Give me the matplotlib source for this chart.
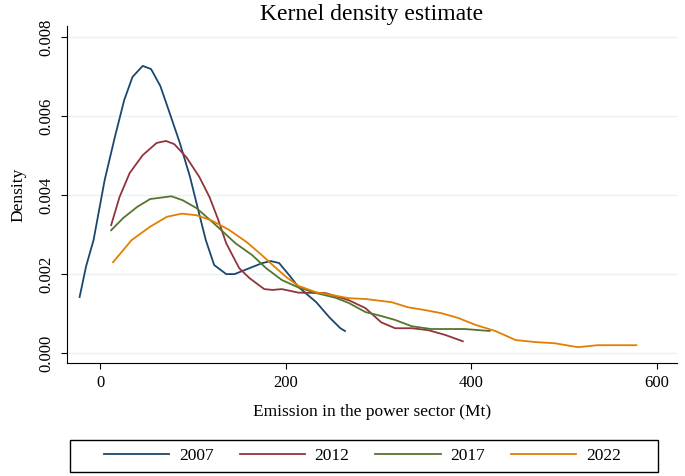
import numpy as np
import matplotlib.pyplot as plt
from matplotlib.patches import Rectangle

plt.rcParams['font.family'] = ['Liberation Serif', 'DejaVu Serif']

# Kernel density curves (x in Mt, y density)
x_2007 = [-22, -15, -7, 5, 16, 26, 35, 46, 55, 65, 75, 86, 97, 105, 114, 123, 136,
          145, 161, 175, 184, 193, 204, 214, 233, 247, 259, 264]
y_2007 = [0.00142, 0.0022, 0.00286, 0.00438, 0.00547, 0.0064, 0.00699, 0.00727,
          0.00719, 0.00676, 0.00608, 0.00532, 0.00446, 0.0037, 0.00286, 0.00223,
          0.0020, 0.0020, 0.00215, 0.00228, 0.00233, 0.00228, 0.00197, 0.00167,
          0.00129, 0.00091, 0.00063, 0.00056]

x_2012 = [12, 21, 32, 46, 61, 71, 80, 93, 107, 118, 127, 136, 150, 161, 177, 186,
          196, 214, 243, 268, 286, 303, 318, 336, 354, 372, 391]
y_2012 = [0.00324, 0.00395, 0.00456, 0.00501, 0.00532, 0.00537, 0.00529, 0.00496,
          0.00446, 0.00395, 0.0034, 0.00278, 0.00215, 0.0019, 0.00162, 0.0016,
          0.00162, 0.00153, 0.00152, 0.00134, 0.00114, 0.00078, 0.00063, 0.00063,
          0.00058, 0.00046, 0.0003]

x_2017 = [12, 25, 40, 54, 77, 89, 104, 121, 146, 164, 179, 196, 214, 233, 254, 268,
          286, 303, 318, 336, 357, 375, 393, 420]
y_2017 = [0.00311, 0.00342, 0.0037, 0.0039, 0.00397, 0.00387, 0.00367, 0.00332,
          0.00278, 0.00248, 0.00215, 0.00185, 0.00166, 0.00152, 0.0014, 0.00127,
          0.00104, 0.00094, 0.00084, 0.00068, 0.00061, 0.00061, 0.00061, 0.00056]

x_2022 = [14, 34, 54, 72, 88, 104, 121, 139, 158, 172, 186, 201, 214, 233, 250, 268,
          286, 314, 332, 350, 368, 386, 404, 426, 448, 469, 490, 515, 536, 578]
y_2022 = [0.0023, 0.00286, 0.0032, 0.00345, 0.00353, 0.00349, 0.00335, 0.00312,
          0.00281, 0.00253, 0.00223, 0.00192, 0.0017, 0.00154, 0.00147, 0.00139,
          0.00137, 0.00129, 0.00116, 0.00109, 0.00101, 0.00089, 0.00072, 0.00056,
          0.00033, 0.00028, 0.00025, 0.00015, 0.0002, 0.0002]

years = ['2007', '2012', '2017', '2022']
colors = ['#1a476f', '#90353b', '#55752f', '#e37e00']

fig = plt.figure(figsize=(6.85, 4.76), dpi=100)
ax = fig.add_axes([0.0978, 0.2374, 0.8905, 0.708])

series = [(x_2007, y_2007), (x_2012, y_2012), (x_2017, y_2017), (x_2022, y_2022)]
for (xs, ys), yr, c in zip(series, years, colors):
    ax.plot(xs, ys, color=c, lw=1.3, label=yr)

ax.set_xlim(-35.6, 621.8)
ax.set_ylim(-0.00025, 0.00828)
ax.set_xticks([0, 200, 400, 600])
ax.set_yticks([0, 0.002, 0.004, 0.006, 0.008])
ax.set_yticklabels(['0.000', '0.002', '0.004', '0.006', '0.008'], rotation=90, va='center')
ax.grid(axis='y', color='#eaf2f3', lw=1)
ax.set_axisbelow(True)
for s in ['top', 'right']:
    ax.spines[s].set_visible(False)
ax.tick_params(labelsize=12, length=4, pad=5)

ax.set_title('Kernel density estimate', fontsize=17, pad=4)
ax.set_xlabel('Emission in the power sector (Mt)', fontsize=12.5, labelpad=9)
ax.set_ylabel('Density', fontsize=12.5, labelpad=9)

# legend box drawn separately, wider than its entries
fig.patches.append(Rectangle((0.1022, 0.0084), 0.8584, 0.0672, transform=fig.transFigure,
                             fill=False, edgecolor='black', lw=1))
fig.legend(loc='center', bbox_to_anchor=(0.5292, 0.042), ncol=4, frameon=False,
           fontsize=12.5, handlelength=3.75, handletextpad=0.57,
           columnspacing=1.5, borderpad=0)

fig.savefig('out.png')
